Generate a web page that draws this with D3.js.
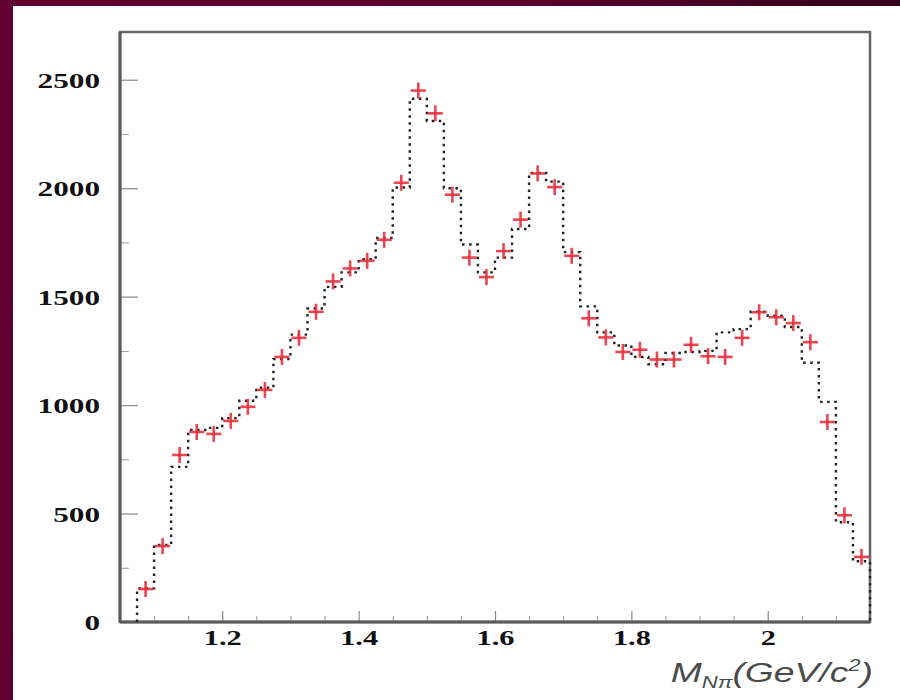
<!DOCTYPE html>
<html>
<head>
<meta charset="utf-8">
<script src="https://cdn.jsdelivr.net/npm/d3@7"></script>
<style>
html,body{margin:0;padding:0;background:#5a0030;}
svg{display:block;}
</style>
</head>
<body>
<svg id="chart" width="900" height="700"></svg>
<script>
// ---- data ----
const binLo = 1.075;          // lower edge of first bin (GeV/c^2)
const binWidth = 0.025;
// red data points (one per bin)
const dataValues = [152, 350, 770, 876, 867, 927, 992, 1070, 1222, 1310,
  1430, 1570, 1630, 1665, 1762, 2025, 2450, 2345, 1970, 1680,
  1590, 1710, 1855, 2068, 2005, 1688, 1400, 1312, 1245, 1255,
  1210, 1210, 1278, 1225, 1222, 1310, 1428, 1405, 1378, 1290,
  922, 492, 300];
// dotted histogram (one per bin)
const histValues = [155, 355, 715, 885, 895, 940, 1020, 1080, 1212, 1325,
  1445, 1545, 1612, 1672, 1770, 2003, 2412, 2310, 2000, 1740,
  1612, 1680, 1812, 2070, 2030, 1705, 1455, 1335, 1275, 1222,
  1188, 1240, 1245, 1250, 1335, 1350, 1430, 1412, 1360, 1195,
  1015, 460, 280];
const xMajorTicks = [1.2, 1.4, 1.6, 1.8, 2.0];
const xTickLabels = ["1.2", "1.4", "1.6", "1.8", "2"];
const yMajorTicks = [0, 500, 1000, 1500, 2000, 2500];
const yTickLabels = ["0", "500", "1000", "1500", "2000", "2500"];

// ---- layout ----
const svg = d3.select("#chart");
const L = 120, R = 870, T = 32, B = 622;
const x = d3.scaleLinear().domain([1.05, 2.15]).range([L, R]);
const y = d3.scaleLinear().domain([0, 2720]).range([B, T]);

// background
const defs = svg.append("defs");
const g1 = defs.append("linearGradient").attr("id","bg").attr("x1","0").attr("y1","0").attr("x2","1").attr("y2","0.3");
g1.append("stop").attr("offset","0").attr("stop-color","#640033");
g1.append("stop").attr("offset","0.6").attr("stop-color","#55002c");
g1.append("stop").attr("offset","1").attr("stop-color","#2a0014");
svg.append("rect").attr("width",900).attr("height",700).attr("fill","url(#bg)");
svg.append("rect").attr("x",13).attr("y",6).attr("width",887).attr("height",694).attr("fill","#ffffff");

// frame
svg.append("rect").attr("x",L).attr("y",T).attr("width",R-L).attr("height",B-T)
  .attr("fill","none").attr("stroke","#666").attr("stroke-width",2.5);

// minor ticks
const yMinor = d3.range(0, 2721, 250).filter(v => v % 500 !== 0);
svg.append("g").attr("transform",`translate(${L},0)`)
  .call(d3.axisLeft(y).tickValues(yMinor).tickSize(-9).tickFormat(""))
  .call(g => g.select(".domain").remove())
  .call(g => g.selectAll("line").attr("stroke","#999").attr("stroke-width",1));
const xMinor = d3.range(1.1, 2.149, 0.05).filter(v => Math.abs(v*5 - Math.round(v*5)) > 1e-6);
svg.append("g").attr("transform",`translate(0,${B})`)
  .call(d3.axisBottom(x).tickValues(xMinor).tickSize(-6).tickFormat(""))
  .call(g => g.select(".domain").remove())
  .call(g => g.selectAll("line").attr("stroke","#999").attr("stroke-width",1));

// major axes
const yAxis = svg.append("g").attr("transform",`translate(${L},0)`)
  .call(d3.axisLeft(y).tickValues(yMajorTicks).tickSize(-18)
        .tickFormat((d,i) => yTickLabels[i]));
yAxis.select(".domain").remove();
yAxis.selectAll("line").attr("stroke","#888").attr("stroke-width",1.2);
yAxis.selectAll("text").attr("x",0).attr("dy","0.34em").attr("text-anchor","end")
  .attr("transform","translate(-20,0) scale(1.42,1)")
  .attr("font-family","'Liberation Serif', 'DejaVu Serif', serif")
  .attr("font-weight","bold").attr("font-size",22).attr("fill","#111");

const xAxis = svg.append("g").attr("transform",`translate(0,${B})`)
  .call(d3.axisBottom(x).tickValues(xMajorTicks).tickSize(-11)
        .tickFormat((d,i) => xTickLabels[i]));
xAxis.select(".domain").remove();
xAxis.selectAll("line").attr("stroke","#888").attr("stroke-width",1.2);
xAxis.selectAll("text").attr("y",0).attr("dy",0).attr("text-anchor","middle")
  .attr("transform","translate(0,23) scale(1.38,1)")
  .attr("font-family","'Liberation Serif', 'DejaVu Serif', serif")
  .attr("font-weight","bold").attr("font-size",22).attr("fill","#111");

// thicker axis lines (left & bottom)
svg.append("line").attr("x1",L).attr("x2",L).attr("y1",T).attr("y2",B)
  .attr("stroke","#5a5a5a").attr("stroke-width",3);
svg.append("line").attr("x1",L).attr("x2",R).attr("y1",B).attr("y2",B)
  .attr("stroke","#5a5a5a").attr("stroke-width",3);

// histogram (dotted step)
const histPts = [[binLo, 0]];
histValues.forEach((v,i) => {
  const a = binLo + i*binWidth, b = a + binWidth;
  histPts.push([a, v]); histPts.push([b, v]);
});
histPts.push([binLo + histValues.length*binWidth, 0]);
svg.append("path")
  .attr("d", d3.line().x(d => x(d[0])).y(d => y(d[1]))(histPts))
  .attr("fill","none").attr("stroke","#222").attr("stroke-width",2.4)
  .attr("stroke-dasharray","2.5,4.5");

// data points: red crosses
const pts = svg.append("g").attr("stroke","#e8323e").attr("stroke-width",2.6).attr("stroke-opacity",0.9);
dataValues.forEach((v,i) => {
  const c = binLo + (i+0.5)*binWidth;
  const cx = x(c), cy = y(v);
  pts.append("line").attr("x1",x(c - binWidth/2)+1).attr("x2",x(c + binWidth/2)-1)
    .attr("y1",cy).attr("y2",cy);
  pts.append("line").attr("x1",cx).attr("x2",cx).attr("y1",cy-8).attr("y2",cy+8);
});

// x-axis title
const title = svg.append("g").attr("transform","translate(873,682) scale(1.38,1)");
const t = title.append("text").attr("text-anchor","end")
  .attr("font-family","'Liberation Sans', Arial, sans-serif").attr("font-style","italic")
  .attr("font-size",27).attr("fill","#4a4a4a");
t.append("tspan").text("M");
t.append("tspan").attr("font-size",16).attr("dy",6).text("Nπ");
t.append("tspan").attr("dy",-6).text("(GeV/c");
t.append("tspan").attr("font-size",16).attr("dy",-11).text("2");
t.append("tspan").attr("dy",11).text(")");
</script>
</body>
</html>
